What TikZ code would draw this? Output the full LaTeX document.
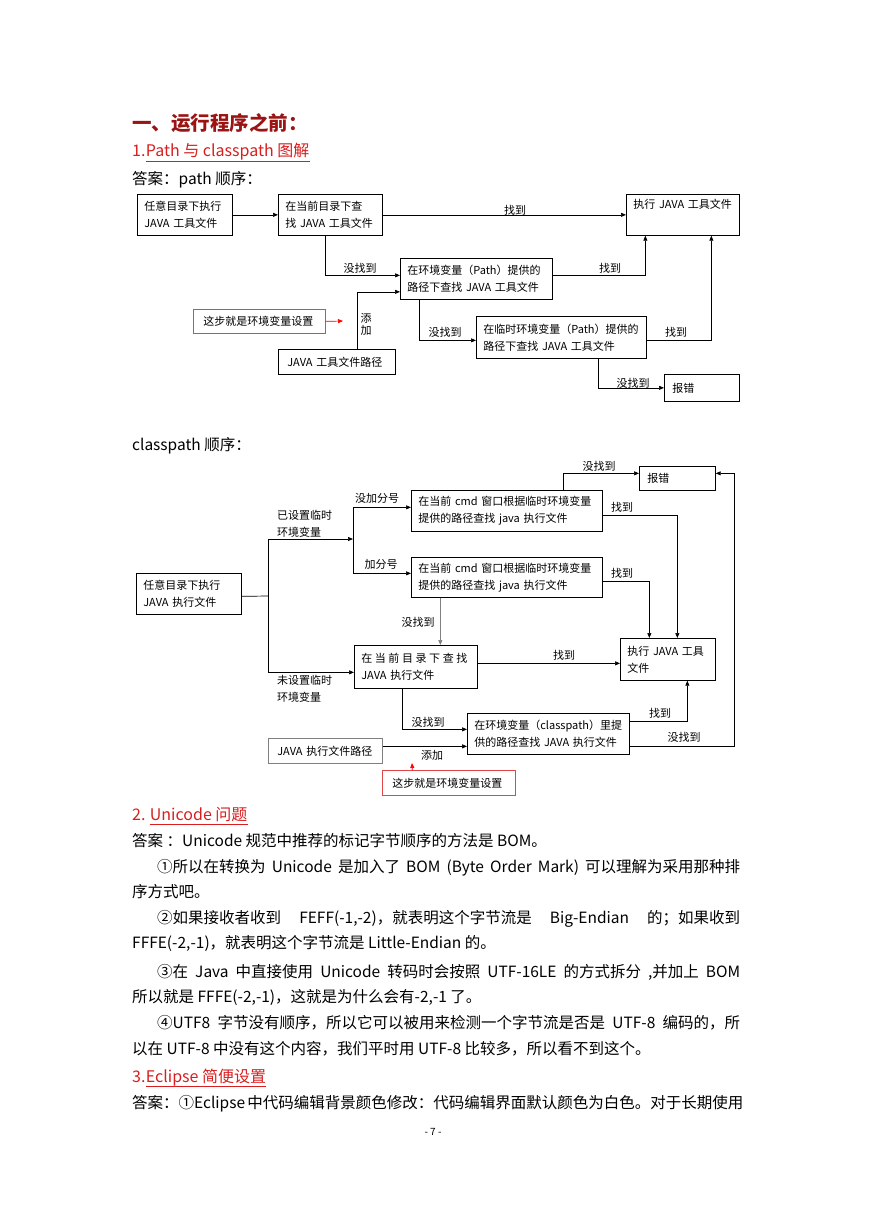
\documentclass[tikz,border=0pt]{standalone}
\usepackage{fontspec}
\setmainfont{Noto Sans CJK SC}
\usetikzlibrary{arrows.meta,positioning}
\definecolor{ttred}{HTML}{9A1414}
\definecolor{hdred}{HTML}{D81E1E}
\definecolor{notered}{HTML}{E04848}
\XeTeXlinebreaklocale "zh"
\XeTeXlinebreakskip=0pt plus 1pt
\newcommand{\bodysize}{\fontsize{15.5}{18}\selectfont}
\newcommand{\dgsize}{\fontsize{11}{17}\selectfont}

\tikzset{
  box/.style={draw, anchor=north west, inner xsep=7pt, inner ysep=0pt, align=left, font=\dgsize, line width=0.7pt},
  notebox/.style={box, draw=notered, inner xsep=10pt},
  arr/.style={-{Triangle[length=5pt,width=4pt]}, line width=0.7pt},
  redarr/.style={-{Triangle[length=5pt,width=4pt]}, line width=0.7pt, draw=red, fill=red},
  lbl/.style={font=\dgsize, inner sep=0pt, align=center},
  txt/.style={anchor=base west, inner sep=0pt, font=\bodysize},
  head/.style={txt, text=hdred, font=\fontsize{16}{18}\selectfont},
  uline/.style={draw=hdred, line width=0.8pt},
}

\begin{document}
\begin{tikzpicture}[x=1pt, y=-1pt]
  \useasboundingbox (0,0) rectangle (869,1228);

  % Headings
  \node[txt, text=ttred, font=\fontsize{19.5}{22}\selectfont\bfseries] (title) at (132,131) {一、运行程序之前：};
  \node[head] (h1num) at (132,157) {1.};
  \node[head] (h1) at (h1num.base east) {Path 与 classpath 图解};
  \draw[uline] ([yshift=-4pt]h1.base west) -- ([yshift=-4pt]h1.base east);
  \node[txt] (ans1) at (132,184) {答案：path 顺序：};

  % path diagram
  \node[box, text width=81pt, minimum height=41pt] (pa) at (137,194) {任意目录下执行\\JAVA 工具文件};
  \node[box, text width=90pt, minimum height=41pt] (pb) at (278,194) {在当前目录下查\\找 JAVA 工具文件};
  \node[box, text width=99pt, minimum height=41pt] (pc) at (626,194) {执行 JAVA 工具文件\\ \strut};
  \node[box, text width=138pt, minimum height=41pt] (pd) at (400,258) {在环境变量（Path）提供的\\路径下查找 JAVA 工具文件};
  \node[box, text width=156pt, minimum height=42pt] (pe) at (476,316) {在临时环境变量（Path）提供的\\路径下查找 JAVA 工具文件};
  \node[box, text width=59pt, minimum height=27pt, inner xsep=8pt] (perr) at (664,374) {报错};
  \node[box, text width=99pt, minimum height=25pt, inner xsep=9pt] (ppath) at (278,349) {JAVA 工具文件路径};
  \node[notebox, text width=112pt, minimum height=24pt] (pnote) at (193,309) {这步就是环境变量设置};
  \coordinate (pnotetip) at (343,321);

  \draw[arr] (pa.east) -- (pb.west);
  \draw[arr] (pb.east) -- (pc.west);
  \draw[arr] ([xshift=-5pt]pb.south) |- ([yshift=3.5pt]pd.west);
  \draw[arr] ([xshift=20pt]ppath.north) |- ([yshift=-13pt]pd.west);
  \draw[redarr] (pnote.east) -- (pnotetip);
  \draw[arr] ([yshift=3.5pt]pd.east) -| ([xshift=-37.5pt]pc.south);
  \draw[arr] ([xshift=-57pt]pd.south) |- ([yshift=-3pt]pe.west);
  \draw[arr] ([yshift=-3pt]pe.east) -| ([xshift=28.5pt]pc.south);
  \draw[arr] ([xshift=37pt]pe.south) |- (perr.west);

  \node[lbl] (pl1) at (515,210) {找到};
  \node[lbl] (pl2) at (360,268) {没找到};
  \node[lbl] (pl3) at (610,268) {找到};
  \node[lbl, font=\fontsize{11}{12}\selectfont] (pl4) at (366,324) {添\\加};
  \node[lbl] (pl5) at (445,332) {没找到};
  \node[lbl] (pl6) at (676,332) {找到};
  \node[lbl] (pl7) at (633,383) {没找到};

  \node[txt] (ans2) at (132,450) {classpath 顺序：};

  % classpath diagram
  \node[box, text width=91pt, minimum height=41pt] (cf) at (136,573) {任意目录下执行\\JAVA 执行文件};
  \node[box, text width=177pt, minimum height=41pt] (ch1) at (411,490) {在当前 cmd 窗口根据临时环境变量\\提供的路径查找 java 执行文件};
  \node[box, text width=177pt, minimum height=40pt] (ch2) at (411,557) {在当前 cmd 窗口根据临时环境变量\\提供的路径查找 java 执行文件};
  \node[box, text width=60pt, minimum height=24pt, inner xsep=8pt] (cerr) at (639,466) {报错};
  \node[box, text width=109pt, minimum height=43pt] (cg) at (354,645) {\makebox[106pt]{在\hfill 当\hfill 前\hfill 目\hfill 录\hfill 下\hfill 查\hfill 找}\\JAVA 执行文件};
  \node[box, text width=81pt, minimum height=42pt] (cj) at (620,638) {执行 JAVA 工具\\文件};
  \node[box, text width=148pt, minimum height=41pt] (ck) at (467,713) {在环境变量（classpath）里提\\供的路径查找 JAVA 执行文件};
  \node[box, draw=gray, text width=96pt, minimum height=25pt, inner xsep=9pt] (cl) at (268,738) {JAVA 执行文件路径};
  \node[notebox, text width=113pt, minimum height=25pt] (cnote) at (382,770) {这步就是环境变量设置};

  \coordinate (csplit) at (268,596);
  \coordinate (cfork) at (353,539);
  \coordinate (cright) at (734,600);
  \coordinate (cnotetip) at (412,763);

  \draw[line width=0.7pt] ([yshift=-2.5pt]cf.east) -- (csplit);
  \draw[arr] (csplit) |- (cfork);
  \draw[arr] (csplit) |- ([yshift=-5.5pt]cg.west);
  \draw[arr] (cfork) |- ([yshift=3.5pt]ch1.west);
  \draw[arr] (cfork) |- ([yshift=4pt]ch2.west);
  \draw[arr] ([xshift=56.5pt]ch1.north) |- ([yshift=5pt]cerr.west);
  \draw[arr] ([yshift=-4.5pt]ch1.east) -| ([xshift=9.5pt]cj.north);
  \draw[arr] ([yshift=-4pt]ch2.east) -| ([xshift=-18.5pt]cj.north);
  \draw[arr, draw=gray, fill=gray] ([xshift=-66.5pt]ch2.south) -- ([xshift=-66.5pt]ch2.south |- cg.north);
  \draw[arr] ([yshift=3.5pt]cg.east) -- ([yshift=3.5pt]cg.east -| cj.west);
  \draw[arr] ([xshift=-13.5pt]cg.south) |- ([yshift=4.5pt]ck.west);
  \draw[arr] ([yshift=4.5pt]cl.east) -- ([yshift=4.5pt]cl.east -| ck.west);
  \draw[arr] ([yshift=12.5pt]ck.east) -| ([xshift=19.5pt]cj.south);
  \draw[arr] ([yshift=-12.5pt]ck.east) -| (cright) |- ([yshift=5pt]cerr.east);
  \draw[redarr] ([xshift=-36.5pt]cnote.north) -- (cnotetip);

  \node[lbl, anchor=west, align=left] (cl1) at (277,523.5) {已设置临时\\环境变量};
  \node[lbl] (cl2) at (377,498) {没加分号};
  \node[lbl] (cl3) at (381,564) {加分号};
  \node[lbl] (cl4) at (599,466) {没找到};
  \node[lbl] (cl5) at (622,507) {找到};
  \node[lbl] (cl6) at (622,573) {找到};
  \node[lbl] (cl7) at (418,622) {没找到};
  \node[lbl] (cl8) at (564,655) {找到};
  \node[lbl, anchor=west, align=left] (cl9) at (277,689) {未设置临时\\环境变量};
  \node[lbl] (cl10) at (428,722) {没找到};
  \node[lbl] (cl11) at (432,755) {添加};
  \node[lbl] (cl12) at (660,713) {找到};
  \node[lbl] (cl13) at (684,737) {没找到};

  % Unicode section
  \node[head] (h2num) at (132,820) {2.};
  \node[head] (h2) at ([xshift=4pt]h2num.base east) {Unicode 问题};
  \draw[uline] ([yshift=-4pt]h2.base west) -- ([yshift=-4pt]h2.base east);
  \node[txt] (u0) at (132,846) {答案 ：Unicode 规范中推荐的标记字节顺序的方法是 BOM。};
  \node[txt] (u1) at (157,872) {\makebox[583pt][s]{①所以在转换为 Unicode 是加入了 BOM (Byte Order Mark) 可以理解为采用那种排}};
  \node[txt] (u2) at (132,897) {序方式吧。};
  \node[txt] (u3) at (157,923) {\makebox[583pt][s]{②如果接收者收到 FEFF(-1,-2)，就表明这个字节流是 Big-Endian 的；如果收到}};
  \node[txt] (u4) at (132,948) {FFFE(-2,-1)，就表明这个字节流是 Little-Endian 的。};
  \node[txt] (u5) at (157,977) {\makebox[583pt][s]{③在 Java 中直接使用 Unicode 转码时会按照 UTF-16LE 的方式拆分 ,并加上 BOM}};
  \node[txt] (u6) at (132,1002) {所以就是 FFFE(-2,-1)，这就是为什么会有-2,-1 了。};
  \node[txt] (u7) at (157,1028) {\makebox[583pt][s]{④UTF8 字节没有顺序，所以它可以被用来检测一个字节流是否是 UTF-8 编码的，所}};
  \node[txt] (u8) at (132,1054) {以在 UTF-8 中没有这个内容，我们平时用 UTF-8 比较多，所以看不到这个。};

  % Eclipse section
  \node[head] (h3num) at (132,1082) {3.};
  \node[head] (h3) at (h3num.base east) {Eclipse 简便设置};
  \draw[uline] ([yshift=-4pt]h3.base west) -- ([yshift=-4pt]h3.base east);
  \node[txt] (e1) at (132,1108) {\makebox[608pt][s]{答案：①Eclipse 中代码编辑背景颜色修改：代码编辑界面默认颜色为白色。对于长期使用}};

  \node[txt, anchor=base, font=\fontsize{10}{12}\selectfont] (pageno) at (433,1135) {- 7 -};
\end{tikzpicture}
\end{document}
